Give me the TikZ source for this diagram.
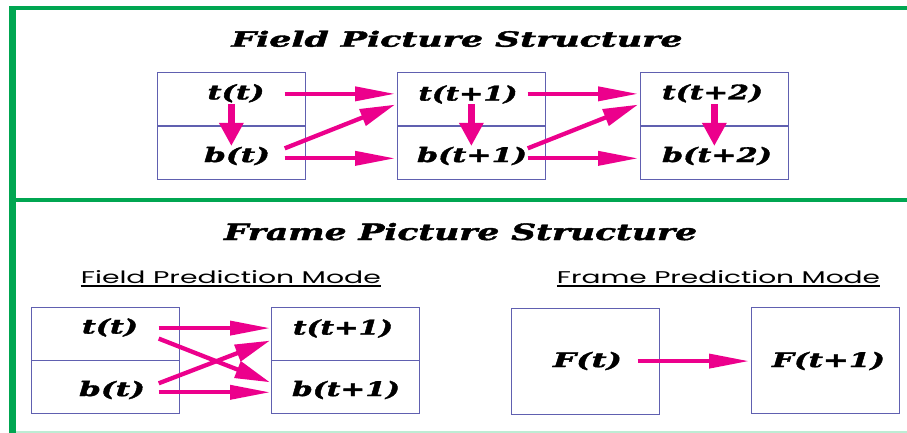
\documentclass[tikz,border=0pt]{standalone}
\usepackage{fontspec}
\usepackage{graphicx}
\usetikzlibrary{arrows.meta,calc}

\newfontfamily\labfont{DejaVu Serif}[FakeBold=1.6]
\newfontfamily\subfont{Poppins}

\definecolor{framegreen}{RGB}{0,166,81}
\definecolor{mintline}{RGB}{190,236,212}
\definecolor{boxblue}{RGB}{96,96,176}
\definecolor{arrowpink}{RGB}{236,0,140}

% heavy italic label, stretched to a given width (in pt)
\newcommand\lbl[2]{\resizebox{#1pt}{\height}{\fontsize{20}{22}\selectfont\labfont\bfseries\itshape #2}}
% section heading
\newcommand\heading[3]{\resizebox{#1pt}{\height}{\fontsize{#2}{24}\selectfont\labfont\bfseries\itshape #3}}
% mode caption
\newcommand\modecap[2]{\resizebox{#1pt}{\height}{\fontsize{17}{20}\selectfont\subfont #2}}

\tikzset{
  half/.style={draw=boxblue, line width=1.2pt, minimum width=147.5pt,
               minimum height=53.5pt, inner sep=0pt, anchor=north west},
  halfb/.style={half, minimum height=53pt},
  whole/.style={half, minimum height=106pt},
  lab/.style={inner sep=0pt, anchor=center},
  ttl/.style={inner sep=0pt, anchor=base},
  harrow/.style={draw=arrowpink, line width=3.8pt,
                 -{Triangle[length=40pt,width=14pt]}},
  varrow/.style={draw=arrowpink, line width=6.3pt,
                 -{Triangle[length=23pt,width=23pt]}},
  darrow/.style={draw=arrowpink, line width=4.3pt,
                 -{Triangle[length=35pt,width=17pt]}},
  rule/.style={line width=1.6pt}
}

\begin{document}
\begin{tikzpicture}[x=1pt,y=-1pt]
\useasboundingbox (0,0) rectangle (907,433);

% green frame
\draw[framegreen, line width=4pt] (9,8.5) -- (907,8.5);
\draw[framegreen, line width=4pt] (9,200) -- (907,200);
\draw[mintline, line width=2pt] (16,432) -- (907,432);
\draw[framegreen, line width=6.5pt] (12.5,6.5) -- (12.5,433);

% ---------- field picture structure ----------
\node[ttl] (title1) at (457,46.7) {\heading{451}{21}{Field Picture Structure}};

\node[half] (B1t) at (157,72) {};
\node[half] (B1b) at (157,125.5) {};
\node[half] (B2t) at (397,72) {};
\node[half] (B2b) at (397,125.5) {};
\node[half] (B3t) at (640,72) {};
\node[half] (B3b) at (640,125.5) {};

\node[lab] (la1) at (236,93.3)   {\lbl{57}{t(t)}};
\node[lab] (lb1) at (237,156)    {\lbl{66}{b(t)}};
\node[lab] (la2) at (468,94.5)   {\lbl{99}{t(t+1)}};
\node[lab] (lb2) at (472,156)    {\lbl{110}{b(t+1)}};
\node[lab] (la3) at (712.5,93.3) {\lbl{101}{t(t+2)}};
\node[lab] (lb3) at (717,156)    {\lbl{110}{b(t+2)}};

% top field to bottom field of the same picture
\draw[varrow] ($(B1t.south)+(0,-22.5)$) -- ($(B1b.north)+(0,20.5)$);
\draw[varrow] ($(B2t.south)+(0,-22.5)$) -- ($(B2b.north)+(0,20.5)$);
\draw[varrow] ($(B3t.south)+(0,-22.5)$) -- ($(B3b.north)+(0,20.5)$);

% picture t to picture t+1
\draw[harrow] ($(B1t.east)+(-21,-5.5)$) -- ($(B2t.west)+(-2,-5.5)$);
\draw[darrow] ($(B1b.east)+(-21,-4.5)$) -- ($(B2t.west)+(-2,5.3)$);
\draw[harrow] ($(B1b.east)+(-21,5.5)$)  -- ($(B2b.west)+(-2,5.5)$);

% picture t+1 to picture t+2
\draw[harrow] ($(B2t.east)+(-18,-5.5)$) -- ($(B3t.west)+(-2,-5.5)$);
\draw[darrow] ($(B2b.east)+(-18,-4.5)$) -- ($(B3t.west)+(-2,5.3)$);
\draw[harrow] ($(B2b.east)+(-18,5.5)$)  -- ($(B3b.west)+(-2,5.5)$);

% ---------- frame picture structure ----------
\node[ttl] (title2) at (460.5,240) {\heading{473}{22.5}{Frame Picture Structure}};

\node[ttl] (cap1) at (230.8,283) {\modecap{300}{Field Prediction Mode}};
\draw[rule] ([yshift=-2.7pt]cap1.base west) -- ([yshift=-2.7pt]cap1.base east);
\node[ttl] (cap2) at (718.5,283) {\modecap{323}{Frame Prediction Mode}};
\draw[rule] ([yshift=-2.7pt]cap2.base west) -- ([yshift=-2.7pt]cap2.base east);

% field prediction mode
\node[halfb] (L1t) at (31,307) {};
\node[halfb] (L1b) at (31,360) {};
\node[halfb] (L2t) at (271,307) {};
\node[halfb] (L2b) at (271,360) {};

\node[lab] (lc1) at (110,327.5) {\lbl{56}{t(t)}};
\node[lab] (ld1) at (112,390)   {\lbl{66}{b(t)}};
\node[lab] (lc2) at (343,328.5) {\lbl{100}{t(t+1)}};
\node[lab] (ld2) at (346,390)   {\lbl{108}{b(t+1)}};

\draw[harrow] ($(L1t.east)+(-21,-6)$)   -- ($(L2t.west)+(-1,-6)$);
\draw[darrow] ($(L1t.east)+(-21,4.5)$)  -- ($(L2b.west)+(-1,-4.8)$);
\draw[darrow] ($(L1b.east)+(-21,-3.8)$) -- ($(L2t.west)+(-1,6.5)$);
\draw[harrow] ($(L1b.east)+(-21,5.2)$)  -- ($(L2b.west)+(-1,5.2)$);

% frame prediction mode
\node[whole] (R1) at (511,308) {};
\node[whole] (R2) at (751,307) {};

\node[lab] (lf1) at (587.5,361) {\lbl{69}{F(t)}};
\node[lab] (lf2) at (828.5,361) {\lbl{113}{F(t+1)}};

\draw[harrow] ($(R1.east)+(-22,-0.5)$) -- ($(R2.west)+(-2,0.5)$);
\end{tikzpicture}
\end{document}
